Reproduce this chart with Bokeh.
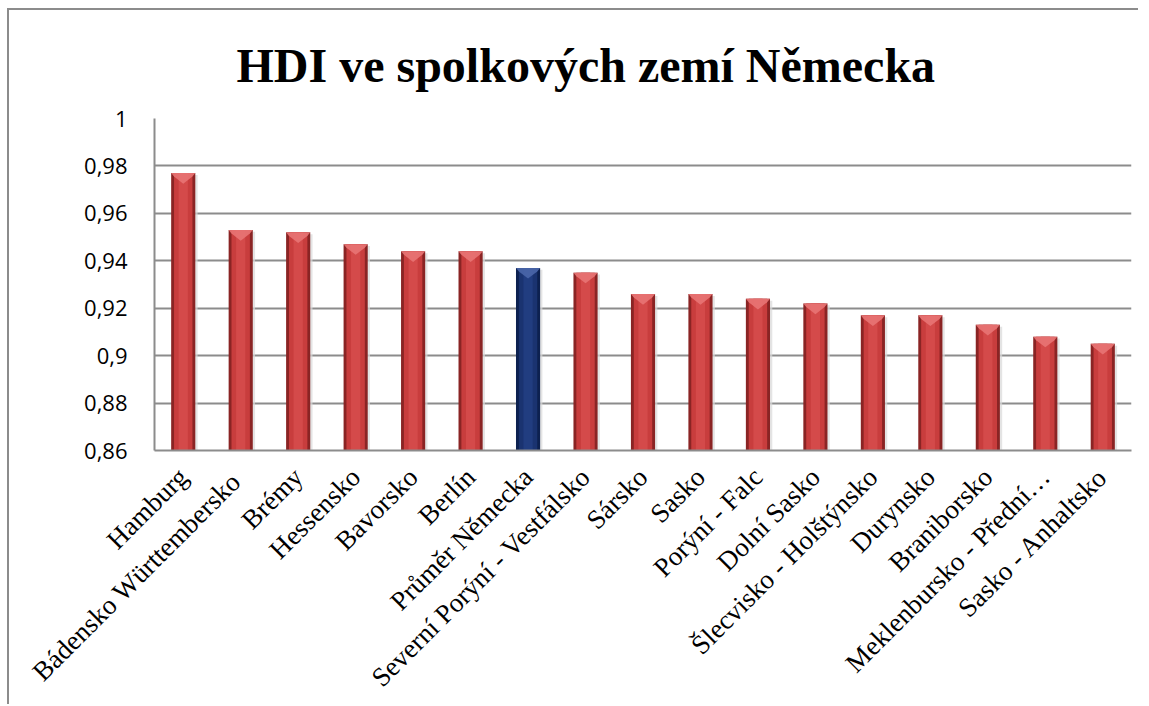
import numpy as np
from bokeh.plotting import figure
from bokeh.models import Range1d, FixedTicker, ColumnDataSource
from bokeh.embed import file_html
from bokeh.resources import INLINE

# ---- data ----
categories = ["Hamburg", "Bádensko  Württembersko", "Brémy", "Hessensko", "Bavorsko",
              "Berlín", "Průměr Německa", "Severní Porýní - Vestfálsko", "Sársko", "Sasko",
              "Porýní - Falc", "Dolní Sasko", "Šlecvisko - Holštýnsko", "Durynsko",
              "Braniborsko", "Meklenbursko - Přední…", "Sasko - Anhaltsko"]
hdi_values = [0.977, 0.953, 0.952, 0.947, 0.944, 0.944, 0.937, 0.935, 0.926, 0.926,
              0.924, 0.922, 0.917, 0.917, 0.913, 0.908, 0.905]
highlight = "Průměr Německa"
y_tick_values = [0.86, 0.88, 0.90, 0.92, 0.94, 0.96, 0.98, 1.0]
y_tick_labels = ["0,86", "0,88", "0,9", "0,92", "0,94", "0,96", "0,98", "1"]
title_text = "HDI ve spolkových zemí Německa"

# ---- build ----
x = np.arange(len(categories))
is_hl = [c == highlight for c in categories]
outer_col = ["#0d2150" if h else "#8a2424" for h in is_hl]
inner_col = ["#1a3370" if h else "#c83d3d" for h in is_hl]
core_col = ["#213d80" if h else "#d44a4a" for h in is_hl]
bevel_col = ["#4a66a8" if h else "#e87474" for h in is_hl]

src = ColumnDataSource(dict(x=x, top=hdi_values, outer=outer_col, inner=inner_col,
                            core=core_col))

p = figure(width=1131, height=696, x_range=Range1d(-0.5, len(categories) - 0.5),
           y_range=Range1d(0.86, 1.0), output_backend="svg", toolbar_location=None,
           min_border_left=145, min_border_right=9, min_border_top=108,
           min_border_bottom=255)
p.styles = {"border-left": "2px solid #8c8c8c", "border-top": "2px solid #8c8c8c",
            "margin-left": "7px", "margin-top": "8px"}

p.title.text = title_text
p.title.text_font = "Liberation Serif"
p.title.text_font_style = "bold"
p.title.text_font_size = "48px"
p.title.text_color = "black"
p.title.align = "left"
p.title.offset = 82
p.title.standoff = 53

# shadow
p.vbar(x=x + 0.03, top=[v - 0.0008 for v in hdi_values], bottom=0.86, width=0.44,
       fill_color="#d9d9d9", line_color=None, fill_alpha=0.7)
p.vbar(x="x", top="top", bottom=0.86, width=0.42, fill_color="outer", line_color=None, source=src)
p.vbar(x="x", top="top", bottom=0.86, width=0.32, fill_color="inner", line_color=None, source=src)
p.vbar(x="x", top="top", bottom=0.86, width=0.16, fill_color="core", line_color=None, source=src)

# top bevel
dy = 0.0045
xs = [[xi - 0.21, xi + 0.21, xi + 0.16, xi, xi - 0.16] for xi in x]
ys = [[v, v, v - 0.0015, v - dy, v - 0.0015] for v in hdi_values]
p.patches(xs, ys, fill_color=bevel_col, line_color=None, fill_alpha=0.9)

p.outline_line_color = None
p.xgrid.grid_line_color = None
p.ygrid.grid_line_color = "#8c8c8c"
p.ygrid.grid_line_width = 2

p.yaxis.ticker = FixedTicker(ticks=y_tick_values)
p.yaxis.major_label_overrides = {v: l for v, l in zip(y_tick_values, y_tick_labels)}
p.yaxis.major_label_text_font = "Open Sans"
p.yaxis.major_label_text_font_size = "22px"
p.yaxis.major_label_text_color = "black"
p.yaxis.major_label_standoff = 21
p.yaxis.major_tick_line_color = None
p.yaxis.minor_tick_line_color = None
p.yaxis.axis_line_color = "#8c8c8c"
p.yaxis.axis_line_width = 2

p.xaxis.ticker = FixedTicker(ticks=list(x))
p.xaxis.major_label_overrides = {int(i): c for i, c in zip(x, categories)}
p.xaxis.major_label_orientation = np.pi / 4
p.xaxis.major_label_text_font = "Liberation Serif"
p.xaxis.major_label_text_font_size = "27px"
p.xaxis.major_label_text_color = "black"
p.xaxis.major_label_standoff = 16
p.xaxis.major_tick_line_color = None
p.xaxis.minor_tick_line_color = None
p.xaxis.axis_line_color = "#8c8c8c"
p.xaxis.axis_line_width = 2

open("out.html", "w").write(file_html(p, INLINE))
